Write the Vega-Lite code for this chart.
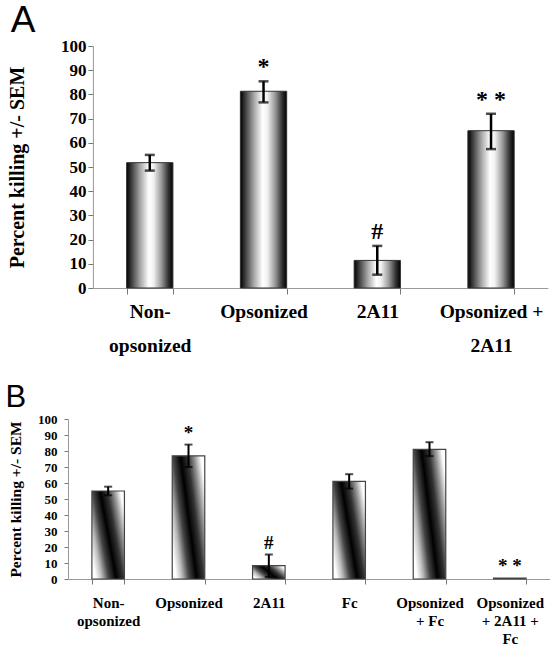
{
  "$schema": "https://vega.github.io/schema/vega-lite/v6.json",
  "background": "white",
  "padding": {"left": 5, "top": 2, "right": 0, "bottom": 0},
  "spacing": 27,
  "config": {
    "view": {"stroke": null},
    "axis": {
      "labelFont": "Liberation Serif",
      "titleFont": "Liberation Serif",
      "labelFontWeight": "bold",
      "titleFontWeight": "bold",
      "labelColor": "black",
      "titleColor": "black",
      "domainColor": "#999999",
      "tickColor": "#777777",
      "labelOverlap": false,
      "grid": false
    }
  },
  "vconcat": [
    {
      "width": 480,
      "height": 242,
      "title": {"text": "A", "anchor": "start", "frame": "group", "font": "Liberation Sans", "fontSize": 37, "fontWeight": "normal", "color": "black", "dx": -57.2, "baseline": "alphabetic", "offset": -32},
      "data": {"values": [
        {"cat": "Non-|opsonized", "v": 51.8, "lo": 48.5, "hi": 55.0, "note": ""},
        {"cat": "Opsonized", "v": 81.3, "lo": 76.7, "hi": 85.4, "note": "*"},
        {"cat": "2A11", "v": 11.4, "lo": 5.5, "hi": 17.4, "note": "#"},
        {"cat": "Opsonized +|2A11", "v": 65.0, "lo": 57.4, "hi": 72.0, "note": "* *"}
      ]},
      "encoding": {
        "x": {"field": "cat", "type": "nominal", "sort": null,
          "scale": {"range": [24.9, 479.9], "paddingInner": 0.593, "paddingOuter": 0.2965},
          "axis": {"title": null, "labelExpr": "split(datum.label, '|')", "labelAngle": 0, "tickBand": "extent", "ticks": true, "labelFontSize": 19.5, "labelLineHeight": 34.4, "labelPadding": 8, "tickSize": 6}}
      },
      "layer": [
        {
          "mark": {"type": "bar", "stroke": "#333333", "strokeWidth": 1,
            "fill": {"gradient": "linear", "x1": 0, "y1": 0, "x2": 1, "y2": 0,
              "stops": [
                {"offset": 0, "color": "#000000"},
                {"offset": 0.1, "color": "#3a3a3a"},
                {"offset": 0.3, "color": "#aaaaaa"},
                {"offset": 0.48, "color": "#ffffff"},
                {"offset": 0.58, "color": "#f2f2f2"},
                {"offset": 0.75, "color": "#999999"},
                {"offset": 0.9, "color": "#333333"},
                {"offset": 1, "color": "#000000"}
              ]}},
          "encoding": {
            "y": {"field": "v", "type": "quantitative", "scale": {"domain": [0, 100]},
              "axis": {"offset": -24.9, "values": [0, 10, 20, 30, 40, 50, 60, 70, 80, 90, 100], "labelOverlap": false, "title": "Percent killing +/- SEM", "labelFontSize": 17, "titleFontSize": 20, "tickSize": 5, "labelPadding": 2, "titlePadding": 33}}
          }
        },
        {
          "mark": {"type": "rule", "strokeWidth": 2.5, "color": "black"},
          "encoding": {"y": {"field": "lo", "type": "quantitative", "axis": {"offset": -24.9, "values": [0, 10, 20, 30, 40, 50, 60, 70, 80, 90, 100], "labelOverlap": false, "title": "Percent killing +/- SEM", "labelFontSize": 17, "titleFontSize": 20, "tickSize": 5, "labelPadding": 2, "titlePadding": 33}}, "y2": {"field": "hi"}}
        },
        {
          "mark": {"type": "tick", "thickness": 2.5, "size": 10, "color": "black"},
          "encoding": {"y": {"field": "lo", "type": "quantitative", "axis": {"offset": -24.9, "values": [0, 10, 20, 30, 40, 50, 60, 70, 80, 90, 100], "labelOverlap": false, "title": "Percent killing +/- SEM", "labelFontSize": 17, "titleFontSize": 20, "tickSize": 5, "labelPadding": 2, "titlePadding": 33}}}
        },
        {
          "mark": {"type": "tick", "thickness": 2.5, "size": 10, "color": "black"},
          "encoding": {"y": {"field": "hi", "type": "quantitative", "axis": {"offset": -24.9, "values": [0, 10, 20, 30, 40, 50, 60, 70, 80, 90, 100], "labelOverlap": false, "title": "Percent killing +/- SEM", "labelFontSize": 17, "titleFontSize": 20, "tickSize": 5, "labelPadding": 2, "titlePadding": 33}}}
        },
        {
          "mark": {"type": "text", "font": "Liberation Serif", "fontWeight": "bold", "fontSize": 24, "baseline": "alphabetic", "dy": -7, "color": "black"},
          "encoding": {"y": {"field": "hi", "type": "quantitative", "axis": {"offset": -24.9, "values": [0, 10, 20, 30, 40, 50, 60, 70, 80, 90, 100], "labelOverlap": false, "title": "Percent killing +/- SEM", "labelFontSize": 17, "titleFontSize": 20, "tickSize": 5, "labelPadding": 2, "titlePadding": 33}}, "text": {"field": "note"}}
        }
      ]
    },
    {
      "width": 482,
      "height": 160,
      "title": {"text": "B", "anchor": "start", "frame": "group", "font": "Liberation Sans", "fontSize": 31, "fontWeight": "normal", "color": "black", "dx": -62.4, "baseline": "alphabetic", "offset": -25},
      "data": {"values": [
        {"cat": "Non-|opsonized", "v": 55.0, "lo": 52.3, "hi": 57.7, "note": ""},
        {"cat": "Opsonized", "v": 77.0, "lo": 70.0, "hi": 84.0, "note": "*"},
        {"cat": "2A11", "v": 8.3, "lo": 1.3, "hi": 15.3, "note": "#"},
        {"cat": "Fc", "v": 61.0, "lo": 56.5, "hi": 65.5, "note": ""},
        {"cat": "Opsonized|+ Fc", "v": 81.0, "lo": 76.8, "hi": 85.5, "note": ""},
        {"cat": "Opsonized|+ 2A11 +|Fc", "v": 0.6, "lo": null, "hi": 0.6, "note": "* *"}
      ]},
      "encoding": {
        "x": {"field": "cat", "type": "nominal", "sort": null,
          "scale": {"paddingInner": 0.595, "paddingOuter": 0.2975},
          "axis": {"title": null, "labelExpr": "split(datum.label, '|')", "labelAngle": 0, "tickBand": "extent", "ticks": true, "labelFontSize": 15, "labelLineHeight": 18, "labelPadding": 11, "tickSize": 5}}
      },
      "layer": [
        {
          "mark": {"type": "bar", "stroke": "#444444", "strokeWidth": 1.2,
            "fill": {"gradient": "linear", "x1": 0, "y1": 0.75, "x2": 1, "y2": 0.25,
              "stops": [
                {"offset": 0, "color": "#ffffff"},
                {"offset": 0.15, "color": "#bbbbbb"},
                {"offset": 0.32, "color": "#444444"},
                {"offset": 0.5, "color": "#000000"},
                {"offset": 0.68, "color": "#333333"},
                {"offset": 0.85, "color": "#999999"},
                {"offset": 1, "color": "#ffffff"}
              ]}},
          "encoding": {
            "y": {"field": "v", "type": "quantitative", "scale": {"domain": [0, 100]},
              "axis": {"values": [0, 10, 20, 30, 40, 50, 60, 70, 80, 90, 100], "labelOverlap": false, "title": "Percent killing +/- SEM", "labelFontSize": 13, "titleFontSize": 15.5, "tickSize": 4, "labelPadding": 7, "titlePadding": 14}}
          }
        },
        {
          "mark": {"type": "rule", "strokeWidth": 2, "color": "black"},
          "encoding": {"y": {"field": "lo", "type": "quantitative", "axis": {"values": [0, 10, 20, 30, 40, 50, 60, 70, 80, 90, 100], "labelOverlap": false, "title": "Percent killing +/- SEM", "labelFontSize": 13, "titleFontSize": 15.5, "tickSize": 4, "labelPadding": 7, "titlePadding": 14}}, "y2": {"field": "hi"}}
        },
        {
          "mark": {"type": "tick", "thickness": 2, "size": 8, "color": "black"},
          "encoding": {"y": {"field": "lo", "type": "quantitative", "axis": {"values": [0, 10, 20, 30, 40, 50, 60, 70, 80, 90, 100], "labelOverlap": false, "title": "Percent killing +/- SEM", "labelFontSize": 13, "titleFontSize": 15.5, "tickSize": 4, "labelPadding": 7, "titlePadding": 14}}}
        },
        {
          "transform": [{"filter": "datum.lo != null"}],
          "mark": {"type": "tick", "thickness": 2, "size": 8, "color": "black"},
          "encoding": {"y": {"field": "hi", "type": "quantitative", "axis": {"values": [0, 10, 20, 30, 40, 50, 60, 70, 80, 90, 100], "labelOverlap": false, "title": "Percent killing +/- SEM", "labelFontSize": 13, "titleFontSize": 15.5, "tickSize": 4, "labelPadding": 7, "titlePadding": 14}}}
        },
        {
          "mark": {"type": "text", "font": "Liberation Serif", "fontWeight": "bold", "fontSize": 19, "baseline": "alphabetic", "dy": -6, "color": "black"},
          "encoding": {"y": {"field": "hi", "type": "quantitative", "axis": {"values": [0, 10, 20, 30, 40, 50, 60, 70, 80, 90, 100], "labelOverlap": false, "title": "Percent killing +/- SEM", "labelFontSize": 13, "titleFontSize": 15.5, "tickSize": 4, "labelPadding": 7, "titlePadding": 14}}, "text": {"field": "note"}}
        }
      ]
    }
  ]
}
